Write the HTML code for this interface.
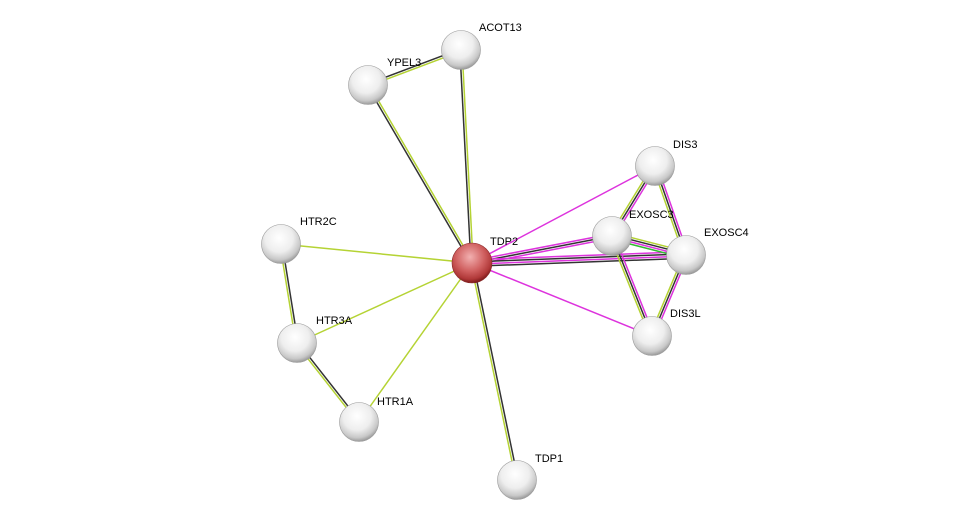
<!DOCTYPE html>
<html><head><meta charset="utf-8"><style>
html,body{margin:0;padding:0;background:#fff;}
svg{display:block;}
text{font-family:"Liberation Sans",sans-serif;font-size:11px;fill:#000;}
</style></head><body>
<svg id="s" width="975" height="526" viewBox="0 0 975 526" xmlns="http://www.w3.org/2000/svg">
<defs>
<radialGradient id="g" cx="45%" cy="35%" r="65%">
<stop offset="0" stop-color="#ffffff"/><stop offset="0.55" stop-color="#eeeeee"/><stop offset="0.85" stop-color="#c8c8c8"/><stop offset="1" stop-color="#9a9a9a"/></radialGradient>
<radialGradient id="r" cx="45%" cy="35%" r="65%">
<stop offset="0" stop-color="#f2b0b0"/><stop offset="0.55" stop-color="#d06060"/><stop offset="0.85" stop-color="#b03838"/><stop offset="1" stop-color="#7a1a1a"/></radialGradient>
</defs>
<g id="edges"></g>
<g id="nodes"></g>
</svg>
<script>
var N={ACOT13:[461,50],YPEL3:[368,85],DIS3:[655,166],EXOSC3:[612,236],EXOSC4:[686,255],DIS3L:[652,336],TDP2:[472,263],HTR2C:[281,244],HTR3A:[297,343],HTR1A:[359,422],TDP1:[517,480]};
var Y="#b5d334",K="#333",M="#dd33dd",G="#33bb33";
var E=[["TDP2","YPEL3",[K,Y]],["TDP2","ACOT13",[K,Y]],["YPEL3","ACOT13",[K,Y]],["TDP2","DIS3",[M]],["TDP2","EXOSC3",[M,K,M]],["TDP2","EXOSC4",[M,K,M,K]],["TDP2","DIS3L",[M]],["TDP2","HTR2C",[Y]],["TDP2","HTR3A",[Y]],["TDP2","HTR1A",[Y]],["TDP2","TDP1",[K,Y]],["HTR2C","HTR3A",[K,Y]],["HTR3A","HTR1A",[K,Y]],["DIS3","EXOSC3",[M,K,Y]],["DIS3","EXOSC4",[M,K,Y]],["EXOSC3","EXOSC4",[Y,K,M,G]],["EXOSC3","DIS3L",[M,K,Y]],["EXOSC4","DIS3L",[M,K,Y]]];
var ns="http://www.w3.org/2000/svg",eg=document.getElementById("edges"),ng=document.getElementById("nodes");
E.forEach(function(e){var a=N[e[0]],b=N[e[1]],dx=b[0]-a[0],dy=b[1]-a[1],L=Math.hypot(dx,dy),px=-dy/L,py=dx/L,n=e[2].length;
e[2].forEach(function(c,i){var o=(i-(n-1)/2)*2.2;var l=document.createElementNS(ns,"line");
l.setAttribute("x1",a[0]+px*o);l.setAttribute("y1",a[1]+py*o);l.setAttribute("x2",b[0]+px*o);l.setAttribute("y2",b[1]+py*o);
l.setAttribute("stroke",c);l.setAttribute("stroke-width","1.5");eg.appendChild(l);});});
var lab={ACOT13:[18,-19],YPEL3:[19,-19],DIS3:[18,-18],EXOSC3:[17,-18],EXOSC4:[18,-19],DIS3L:[18,-19],TDP2:[18,-18],HTR2C:[19,-19],HTR3A:[19,-19],HTR1A:[18,-17],TDP1:[18,-18]};
for(var k in N){var p=N[k];var c=document.createElementNS(ns,"circle");c.setAttribute("cx",p[0]);c.setAttribute("cy",p[1]);c.setAttribute("r",k=="TDP2"?20:19.5);
c.setAttribute("fill",k=="TDP2"?"url(#r)":"url(#g)");c.setAttribute("stroke",k=="TDP2"?"#8a2a2a":"#999");c.setAttribute("stroke-width","0.6");ng.appendChild(c);
var t=document.createElementNS(ns,"text");t.setAttribute("x",p[0]+lab[k][0]);t.setAttribute("y",p[1]+lab[k][1]);t.textContent=k;ng.appendChild(t);}
</script>
</body></html>
